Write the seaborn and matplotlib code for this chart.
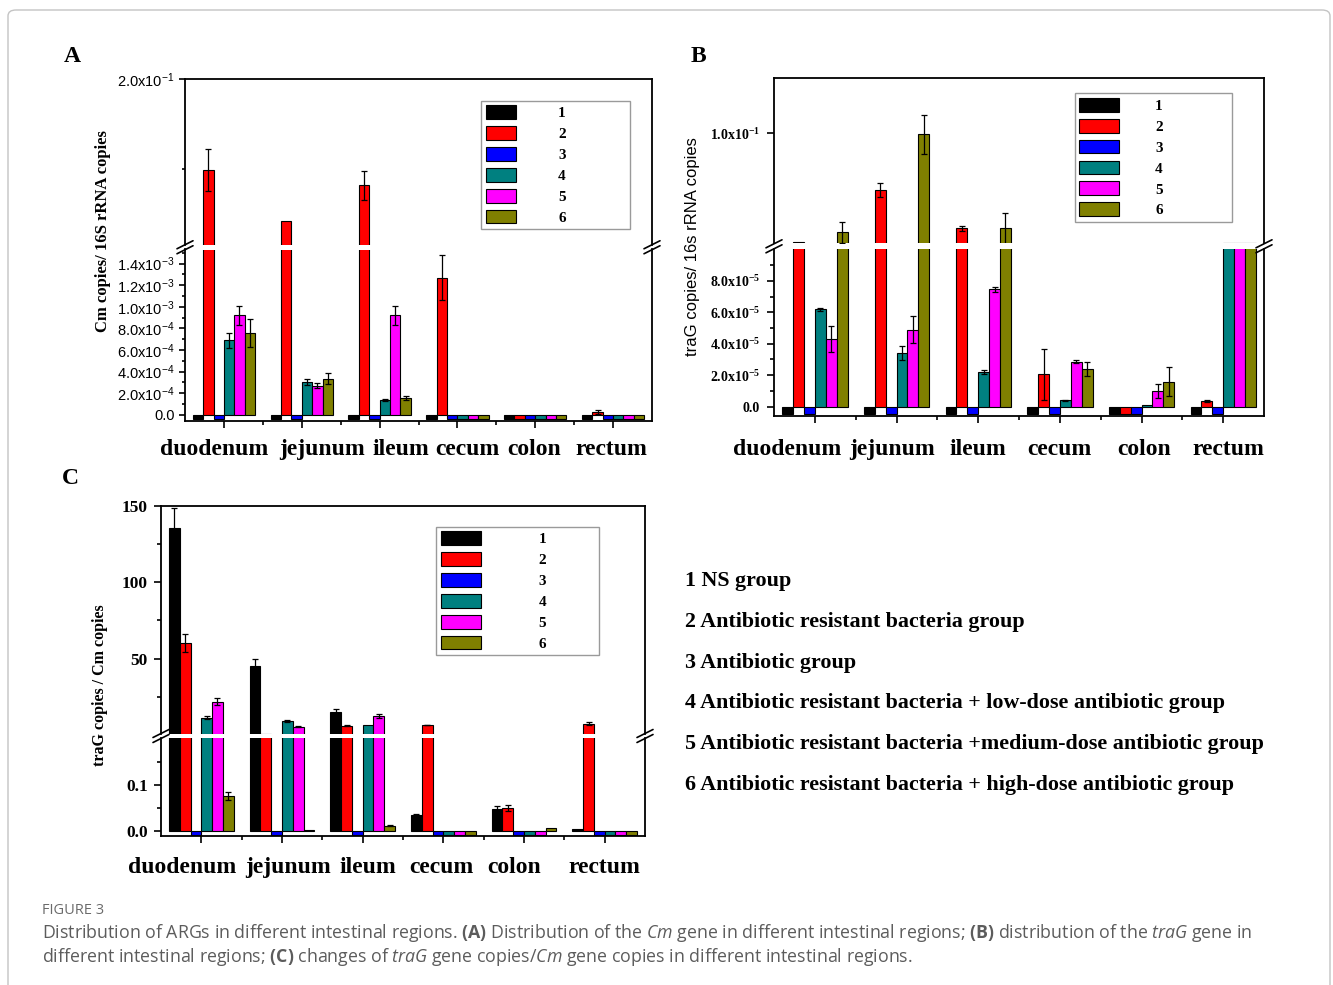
import numpy as np
import pandas as pd
import matplotlib
matplotlib.use("Agg")
import matplotlib.pyplot as plt
import matplotlib.transforms as mtransforms
import seaborn as sns
from matplotlib.patches import Patch, FancyBboxPatch
from matplotlib.lines import Line2D
from matplotlib.ticker import FixedLocator, MultipleLocator, FuncFormatter

# ---------------- data ----------------
regions = ["duodenum", "jejunum", "ileum", "cecum", "colon", "rectum"]
groups = ["1", "2", "3", "4", "5", "6"]
group_colors = ["#000000", "#ff0000", "#0000ff", "#008080", "#ff00ff", "#808000"]
group_names = [
    "1 NS group",
    "2 Antibiotic resistant bacteria group",
    "3 Antibiotic group",
    "4 Antibiotic resistant bacteria + low-dose antibiotic group",
    "5 Antibiotic resistant bacteria +medium-dose antibiotic group",
    "6 Antibiotic resistant bacteria + high-dose antibiotic group",
]

# A: Cm copies / 16S rRNA copies (one row per group, one column per region)
cm_vals = [
    [-4e-5, -4e-5, -4e-5, -4e-5, -4e-5, -4e-5],
    [0.099, 0.0426, 0.0822, 1.27e-3, -4e-5, 2.5e-5],
    [-4e-5, -4e-5, -4e-5, -4e-5, -4e-5, -4e-5],
    [6.9e-4, 3.05e-4, 1.38e-4, -4e-5, -4e-5, -4e-5],
    [9.2e-4, 2.7e-4, 9.2e-4, -4e-5, -4e-5, -4e-5],
    [7.6e-4, 3.35e-4, 1.55e-4, -4e-5, -4e-5, -4e-5],
]
cm_err = [
    [0, 0, 0, 0, 0, 0],
    [0.023, 0, 0.016, 2.1e-4, 0, 1.5e-5],
    [0, 0, 0, 0, 0, 0],
    [0.7e-4, 0.3e-4, 0.1e-4, 0, 0, 0],
    [0.9e-4, 0.2e-4, 0.9e-4, 0, 0, 0],
    [1.3e-4, 0.5e-4, 0.2e-4, 0, 0, 0],
]

# B: traG copies / 16s rRNA copies
trag_vals = [
    [-0.45e-5, -0.45e-5, -0.45e-5, -0.45e-5, -0.45e-5, -0.45e-5],
    [0.0112, 0.0536, 0.0223, 2.05e-5, -0.45e-5, 0.38e-5],
    [-0.45e-5, -0.45e-5, -0.45e-5, -0.45e-5, -0.45e-5, -0.45e-5],
    [6.2e-5, 3.4e-5, 2.2e-5, 0.4e-5, 0.1e-5, 0.0105],
    [4.3e-5, 4.9e-5, 7.45e-5, 2.85e-5, 1.0e-5, 0.0105],
    [0.019, 0.0994, 0.0223, 2.4e-5, 1.6e-5, 0.0105],
]
trag_err = [
    [0, 0, 0, 0, 0, 0],
    [0, 0.0055, 0.002, 1.6e-5, 0, 0.05e-5],
    [0, 0, 0, 0, 0, 0],
    [0.1e-5, 0.45e-5, 0.15e-5, 0.05e-5, 0, 0],
    [0.8e-5, 0.87e-5, 0.15e-5, 0.1e-5, 0.45e-5, 0],
    [0.0087, 0.016, 0.0128, 0.45e-5, 0.9e-5, 0],
]

# C: traG copies / Cm copies
ratio_vals = [
    [135.4, 45.2, 15.1, 0.035, 0.049, 0.006],
    [60.0, 0.8, 6.0, 6.5, 0.051, 7.1],
    [-0.008, -0.008, -0.008, -0.008, -0.008, -0.008],
    [11.3, 9.1, 6.2, -0.008, -0.008, -0.008],
    [21.8, 5.4, 12.4, -0.008, -0.008, -0.008],
    [0.076, 0.0036, 0.0116, -0.008, 0.008, -0.008],
]
ratio_err = [
    [13, 4.4, 1.6, 0.003, 0.005, 0],
    [6, 0, 0.3, 0.2, 0.006, 1.0],
    [0, 0, 0, 0, 0, 0],
    [1.0, 0.6, 0, 0, 0, 0],
    [2.2, 0.3, 1.5, 0, 0, 0],
    [0.008, 0, 0.001, 0, 0, 0],
]

# ---------------- style ----------------
sns.set_style("ticks", {"axes.edgecolor": "black", "xtick.color": "black",
                        "ytick.color": "black", "text.color": "black",
                        "axes.labelcolor": "black"})
plt.rcParams["mathtext.fontset"] = "custom"
plt.rcParams["mathtext.rm"] = "Open Sans"
plt.rcParams["mathtext.it"] = "Open Sans:italic"
plt.rcParams["mathtext.bf"] = "Open Sans:bold"

SERIF = "Liberation Serif"
SANS = "Liberation Sans"
W, H = 1333, 985

fig = plt.figure(figsize=(W / 100, H / 100), dpi=100)


def fx(px):
    return px / W


def fy(py):
    return 1 - py / H


def to_long(values):
    rows = []
    for g, row in zip(groups, values):
        for r, v in zip(regions, row):
            rows.append({"region": r, "group": g, "value": v})
    return pd.DataFrame(rows)


def broken_axes(left, right, top, brk_top, brk_bot, bottom):
    ax_top = fig.add_axes([fx(left), fy(brk_top), (right - left) / W, (brk_top - top) / H])
    ax_bot = fig.add_axes([fx(left), fy(bottom), (right - left) / W, (bottom - brk_bot) / H])
    ax_top.spines["bottom"].set_visible(False)
    ax_bot.spines["top"].set_visible(False)
    for ax in (ax_top, ax_bot):
        for s in ax.spines.values():
            s.set_linewidth(1.3)
    # break marks on both spines
    y = (brk_top + brk_bot) / 2
    for x in (left, right):
        for d in (-2.5, 2.5):
            fig.add_artist(Line2D([fx(x - 8), fx(x + 8)], [fy(y + d + 4), fy(y + d - 4)],
                                  transform=fig.transFigure, color="black", lw=1.2))
    return ax_top, ax_bot


def draw_bars(ax, values, errors):
    sns.barplot(data=to_long(values), x="region", y="value", hue="group",
                order=regions, hue_order=groups, palette=group_colors, saturation=1,
                width=0.8, gap=0, edgecolor="black", linewidth=0.8,
                errorbar=None, legend=False, ax=ax)
    bar_conts = list(ax.containers)
    for cont, vals, errs in zip(bar_conts, values, errors):
        xs = np.array([p.get_x() + p.get_width() / 2 for p in cont.patches])
        v = np.array(vals)
        e = np.array(errs)
        keep = e > 0
        if keep.any():
            ax.errorbar(xs[keep], v[keep], yerr=e[keep], fmt="none", ecolor="black",
                        elinewidth=0.9, capsize=2.5, capthick=0.9, zorder=3)
    ax.set_xlim(-0.5, 5.5)
    ax.set_xlabel("")
    ax.set_ylabel("")


def hide_short_bars(ax):
    # bars (and their error bars) that end below the upper segment stay only in the lower one
    lo = ax.get_ylim()[0]
    for p in ax.patches:
        if p.get_y() + p.get_height() < lo:
            p.set_visible(False)
    for ln in ax.lines:
        yd = np.asarray(ln.get_ydata(), dtype=float)
        if yd.size and np.all(yd < lo):
            ln.set_visible(False)
        elif yd.size:
            xd = np.asarray(ln.get_xdata(), dtype=float)
            ln.set_data(xd[yd >= lo], yd[yd >= lo])
    for coll in ax.collections:
        segs = coll.get_segments() if hasattr(coll, "get_segments") else []
        if len(segs):
            coll.set_segments([s for s in segs if np.max(s[:, 1]) >= lo])


def style_x(ax_top, ax_bot, label_y, nudges):
    ax_top.set_xticks([])
    ax_top.tick_params(axis="x", which="both", bottom=False, labelbottom=False)
    ax_bot.set_xticks(range(len(regions)))
    ax_bot.set_xticks(np.arange(0.5, len(regions) - 0.5, 1), minor=True)
    ax_bot.set_xticklabels([])
    ax_bot.tick_params(axis="x", which="major", length=5, width=1.2)
    ax_bot.tick_params(axis="x", which="minor", length=3, width=1.2)
    trans = mtransforms.blended_transform_factory(ax_bot.transData, fig.transFigure)
    for i, (name, dx) in enumerate(zip(regions, nudges)):
        ax_bot.text(i + dx, fy(label_y), name, transform=trans, ha="center", va="baseline",
                    family=SERIF, weight="bold", fontsize=17)


def style_y_labels(axes, family, weight, size, pad, length):
    for ax in axes:
        ax.tick_params(axis="y", which="major", length=length, width=1.2, pad=pad)
        ax.tick_params(axis="y", which="minor", length=length - 2, width=1.2)
        for lab in ax.get_yticklabels():
            lab.set_fontfamily(family)
            lab.set_fontweight(weight)
            lab.set_fontsize(size)


def sci_label(v, pos=None):
    if abs(v) < 1e-12:
        return "0.0"
    e = int(np.floor(np.log10(abs(v)) + 1e-9))
    m = v / 10 ** e
    return rf"$\mathdefault{{{m:.1f}x10^{{{e}}}}}$"


def add_legend(ax, x0, top, w, handlelength, textpad):
    handles = [Patch(facecolor=c, edgecolor="black", linewidth=0.8) for c in group_colors]
    leg = ax.legend(handles, groups, loc="upper left", bbox_to_anchor=(x0, 0, w, top),
                    mode="expand", borderaxespad=0, fancybox=False, framealpha=1,
                    edgecolor="#9a9a9a", prop=dict(family=SERIF, weight="bold", size=11),
                    handlelength=handlelength, handleheight=1.0, handletextpad=textpad,
                    labelspacing=0.38, borderpad=0.3)
    leg.get_frame().set_linewidth(1.0)


# ---------------- panel A ----------------
a_top, a_bot = broken_axes(185, 652, 79, 245, 249.5, 421.5)
for ax in (a_top, a_bot):
    draw_bars(ax, cm_vals, cm_err)
a_top.set_ylim(0.016, 0.2)
a_bot.set_ylim(-6.2e-5, 1.53e-3)
hide_short_bars(a_top)
a_top.yaxis.set_major_locator(FixedLocator([0.2]))
a_top.yaxis.set_minor_locator(FixedLocator([0.1]))
a_bot.yaxis.set_major_locator(MultipleLocator(2e-4))
a_bot.yaxis.set_minor_locator(MultipleLocator(1e-4))
for ax in (a_top, a_bot):
    ax.yaxis.set_major_formatter(FuncFormatter(sci_label))
style_y_labels((a_top, a_bot), SANS, "normal", 10.5, 3.5, 4)
style_x(a_top, a_bot, 455, [-0.13, 0.26, 0.27, 0.13, -0.01, -0.02])
add_legend(a_top, 0.634, 0.869, 0.319, 2.0, 2.75)
fig.text(fx(72), fy(57), "A", family=SERIF, weight="bold", fontsize=17, ha="center", va="center")
fig.text(fx(103), fy(231), "Cm copies/ 16S rRNA copies", rotation=90, family=SERIF,
         weight="bold", fontsize=12, ha="center", va="center")

# ---------------- panel B ----------------
b_top, b_bot = broken_axes(774, 1264, 78, 243.3, 249.3, 416)
for ax in (b_top, b_bot):
    draw_bars(ax, trag_vals, trag_err)
b_top.set_ylim(0.01, 0.1453)
b_bot.set_ylim(-0.59e-5, 1.0e-4)
hide_short_bars(b_top)
b_top.yaxis.set_major_locator(FixedLocator([0.1]))
b_bot.yaxis.set_major_locator(FixedLocator([0, 2e-5, 4e-5, 6e-5, 8e-5]))
b_bot.yaxis.set_minor_locator(FixedLocator([1e-5, 3e-5, 5e-5, 7e-5, 9e-5]))
for ax in (b_top, b_bot):
    ax.yaxis.set_major_formatter(FuncFormatter(sci_label))
style_y_labels((b_top, b_bot), SERIF, "bold", 10, 5, 5)
style_x(b_top, b_bot, 455, [-0.34, -0.06, 0.0, -0.01, 0.03, 0.06])
add_legend(b_top, 0.614, 0.907, 0.320, 2.6, 2.35)
fig.text(fx(698), fy(56), "B", family=SERIF, weight="bold", fontsize=17, ha="center", va="center")
fig.text(fx(692), fy(247), "traG copies/ 16s rRNA copies", rotation=90, family=SANS,
         fontsize=12, ha="center", va="center")

# ---------------- panel C ----------------
c_top, c_bot = broken_axes(161, 645, 506, 734, 738, 836)
for ax in (c_top, c_bot):
    draw_bars(ax, ratio_vals, ratio_err)
c_top.set_ylim(0.5, 150)
c_bot.set_ylim(-0.0102, 0.202)
hide_short_bars(c_top)
c_top.yaxis.set_major_locator(FixedLocator([50, 100, 150]))
c_top.yaxis.set_minor_locator(FixedLocator([25, 75, 125]))
c_top.yaxis.set_major_formatter(FuncFormatter(lambda v, p: f"{v:.0f}"))
c_bot.yaxis.set_major_locator(FixedLocator([0.0, 0.1]))
c_bot.yaxis.set_minor_locator(FixedLocator([0.05, 0.15]))
c_bot.yaxis.set_major_formatter(FuncFormatter(lambda v, p: f"{v:.1f}"))
style_y_labels((c_top, c_bot), SERIF, "bold", 12.5, 4.5, 5)
style_x(c_top, c_bot, 873, [-0.24, 0.07, 0.06, -0.02, -0.12, -0.01])
add_legend(c_top, 0.569, 0.909, 0.336, 2.6, 3.77)
fig.text(fx(70), fy(478), "C", family=SERIF, weight="bold", fontsize=17, ha="center", va="center")
fig.text(fx(100), fy(685), "traG copies / Cm copies", rotation=90, family=SERIF,
         weight="bold", fontsize=11.5, ha="center", va="center")

# group descriptions
for i, name in enumerate(group_names):
    fig.text(fx(685), fy(581 + 40.8 * i), name, family=SERIF, weight="bold",
             fontsize=15.8, ha="left", va="center")

# ---------------- caption and frame ----------------
fig.text(fx(42), fy(910), "FIGURE 3", family="Open Sans", fontsize=10.5, color="#6b6b6b",
         ha="left", va="center")
line1 = (r"Distribution of ARGs in different intestinal regions. $\mathbf{(A)}$ Distribution of the "
         r"$\mathit{Cm}$ gene in different intestinal regions; $\mathbf{(B)}$ distribution of the "
         r"$\mathit{traG}$ gene in")
line2 = (r"different intestinal regions; $\mathbf{(C)}$ changes of $\mathit{traG}$ gene copies/"
         r"$\mathit{Cm}$ gene copies in different intestinal regions.")
fig.text(fx(42), fy(933), line1, family="Open Sans", fontsize=12.8, color="#5c5c5c",
         ha="left", va="center")
fig.text(fx(42), fy(957), line2, family="Open Sans", fontsize=12.8, color="#5c5c5c",
         ha="left", va="center")

frame = FancyBboxPatch((fx(8), fy(1000)), fx(1330) - fx(8), fy(10) - fy(1000),
                       boxstyle="round,pad=0,rounding_size=0.006", transform=fig.transFigure,
                       facecolor="none", edgecolor="#c4c4c4", lw=1.0)
fig.add_artist(frame)

fig.savefig("out.png", dpi=100)
